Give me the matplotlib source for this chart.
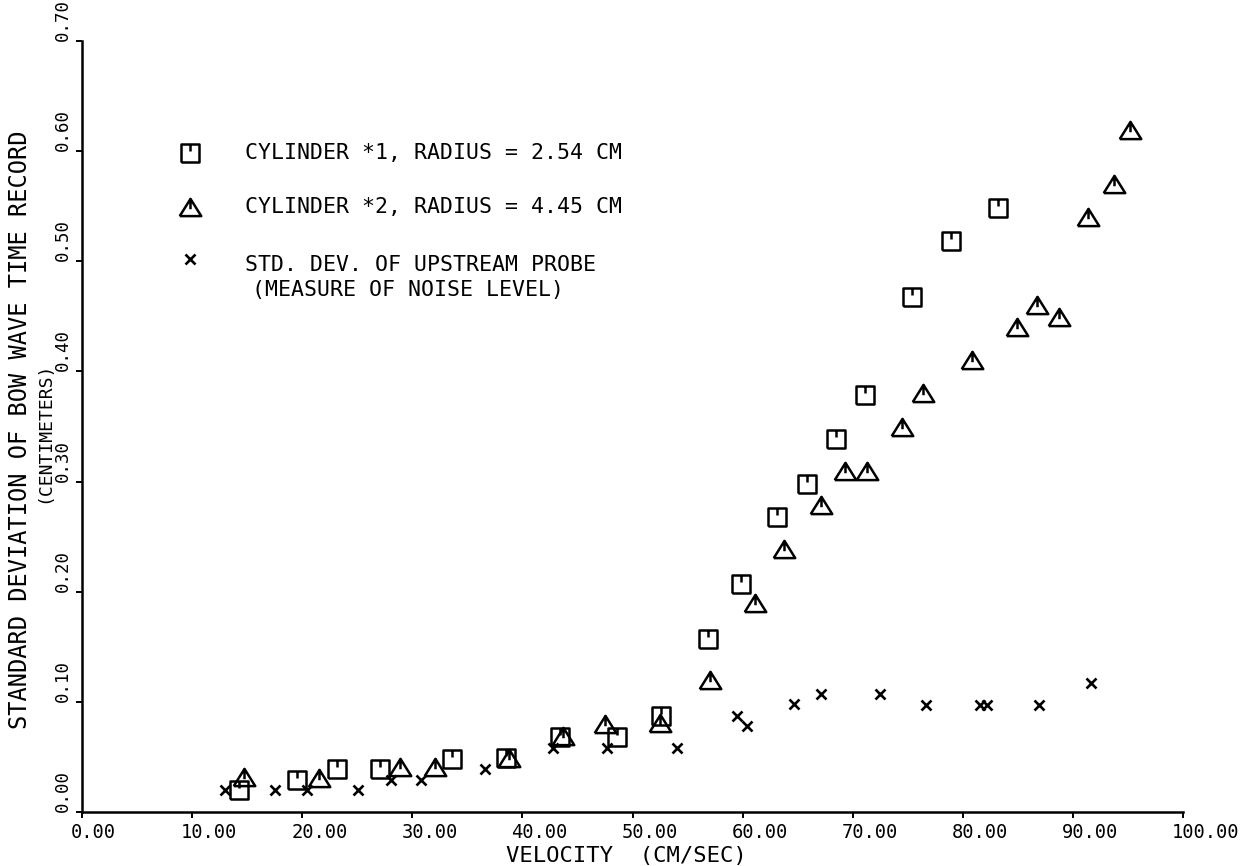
#Grafico: desvio padrao da onda de proa x velocidade
import matplotlib.pyplot as plt
from matplotlib.path import Path
from matplotlib.transforms import ScaledTranslation

plt.rcParams['font.family'] = ['DejaVu Sans Mono']

# Cilindro 1 (raio 2.54 cm)
vel_cil1 = [14.3, 19.5, 23.2, 27.1, 33.6, 38.5, 43.4, 48.6, 52.6, 56.9,
            59.9, 63.1, 65.85, 68.5, 71.1, 75.4, 78.9, 83.2]
dp_cil1 = [0.020, 0.029, 0.039, 0.039, 0.048, 0.049, 0.068, 0.068, 0.087, 0.157,
           0.207, 0.268, 0.298, 0.339, 0.379, 0.468, 0.518, 0.548]

# Cilindro 2 (raio 4.45 cm)
vel_cil2 = [14.7, 21.5, 28.9, 32.1, 38.8, 43.7, 47.5, 52.5, 57.0, 61.1, 63.8, 67.1,
            69.3, 71.3, 74.5, 76.4, 80.8, 84.9, 86.7, 88.7, 91.4, 93.7, 95.2]
dp_cil2 = [0.032, 0.031, 0.041, 0.041, 0.049, 0.069, 0.080, 0.081, 0.120, 0.190, 0.239, 0.279,
           0.310, 0.310, 0.350, 0.380, 0.410, 0.440, 0.460, 0.449, 0.540, 0.570, 0.619]

# Sonda a montante (nivel de ruido)
vel_ruido = [13.0, 17.5, 20.4, 25.1, 28.1, 30.8, 36.6, 42.8, 47.7, 54.0,
             59.5, 60.4, 64.7, 67.1, 72.5, 76.7, 81.6, 82.2, 86.9, 91.6]
dp_ruido = [0.020, 0.020, 0.020, 0.020, 0.029, 0.029, 0.039, 0.058, 0.058, 0.058,
            0.087, 0.078, 0.098, 0.107, 0.107, 0.097, 0.097, 0.097, 0.097, 0.117]

xticks = [0, 10, 20, 30, 40, 50, 60, 70, 80, 90, 100]
yticks = [0.0, 0.1, 0.2, 0.3, 0.4, 0.5, 0.6, 0.7]

legenda = ["CYLINDER *1, RADIUS = 2.54 CM",
           "CYLINDER *2, RADIUS = 4.45 CM",
           "STD. DEV. OF UPSTREAM PROBE",
           "(MEASURE OF NOISE LEVEL)"]

# simbolos do plotter: quadrado e triangulo com o risco da caneta
M, L = Path.MOVETO, Path.LINETO
quadrado = Path([(-0.5, -0.5), (0.5, -0.5), (0.5, 0.5), (-0.5, 0.5), (-0.5, -0.5),
                 (0, 0.5), (0, 0.12)], [M, L, L, L, L, M, L])
triangulo = Path([(-0.5, -0.4), (0.5, -0.4), (0, 0.4), (-0.5, -0.4),
                  (0, 0.4), (0, -0.08)], [M, L, L, L, M, L])

est_quad = dict(ls='none', marker=quadrado, ms=13.5, mfc='none', mec='k', mew=1.8, clip_on=False)
est_tri = dict(ls='none', marker=triangulo, ms=15.5, mfc='none', mec='k', mew=1.8, clip_on=False)
est_x = dict(ls='none', marker='x', ms=7.5, mec='k', mew=1.9, clip_on=False)

fig = plt.figure(figsize=(12.43, 8.66), dpi=100)
ax = fig.add_axes([82/1243, 54/866, 1101/1243, 771/866])

ax.plot(vel_cil1, dp_cil1, **est_quad)
ax.plot(vel_cil2, dp_cil2, **est_tri)
ax.plot(vel_ruido, dp_ruido, **est_x)

ax.set_xlim(0, 100)
ax.set_ylim(0, 0.70)
for lado in ['top', 'right']:
    ax.spines[lado].set_visible(False)
for lado in ['left', 'bottom']:
    ax.spines[lado].set_linewidth(1.8)

ax.set_xticks(xticks, ["%.2f" % v for v in xticks])
ax.set_yticks(yticks, ["%.2f" % v for v in yticks])
ax.tick_params(axis='both', direction='out', length=4, width=1.4, color='k')
ax.tick_params(axis='x', labelsize=13.5, pad=4)
ax.tick_params(axis='y', labelsize=12.5, pad=3)

# rotulos de x comecam um pouco antes do tick
desloc = ScaledTranslation(-11/100, 0, fig.dpi_scale_trans)
for lab in ax.get_xticklabels():
    lab.set_horizontalalignment('left')
    lab.set_transform(lab.get_transform() + desloc)
for lab in ax.get_yticklabels():
    lab.set_rotation(90)
    lab.set_verticalalignment('bottom')
    lab.set_horizontalalignment('right')

# legenda feita a mao
ax.plot([0.098], [0.855], transform=ax.transAxes, **est_quad)
ax.plot([0.098], [0.785], transform=ax.transAxes, **est_tri)
ax.plot([0.098], [0.717], transform=ax.transAxes, **est_x)
ax.text(0.148, 0.855, legenda[0], transform=ax.transAxes, fontsize=15.5, va='center')
ax.text(0.148, 0.785, legenda[1], transform=ax.transAxes, fontsize=15.5, va='center')
ax.text(0.148, 0.709, legenda[2], transform=ax.transAxes, fontsize=15.5, va='center')
ax.text(0.154, 0.677, legenda[3], transform=ax.transAxes, fontsize=15.5, va='center')

# titulos dos eixos
fig.text(626/1243, 10/866, "VELOCITY  (CM/SEC)", fontsize=16, ha='center', va='center')
fig.text(20/1243, 436/866, "STANDARD DEVIATION OF BOW WAVE TIME RECORD",
         fontsize=17, rotation=90, ha='center', va='center')
fig.text(44/1243, 434/866, "(CENTIMETERS)", fontsize=13, rotation=90, ha='center', va='center')

plt.savefig("out.png", dpi=100)
